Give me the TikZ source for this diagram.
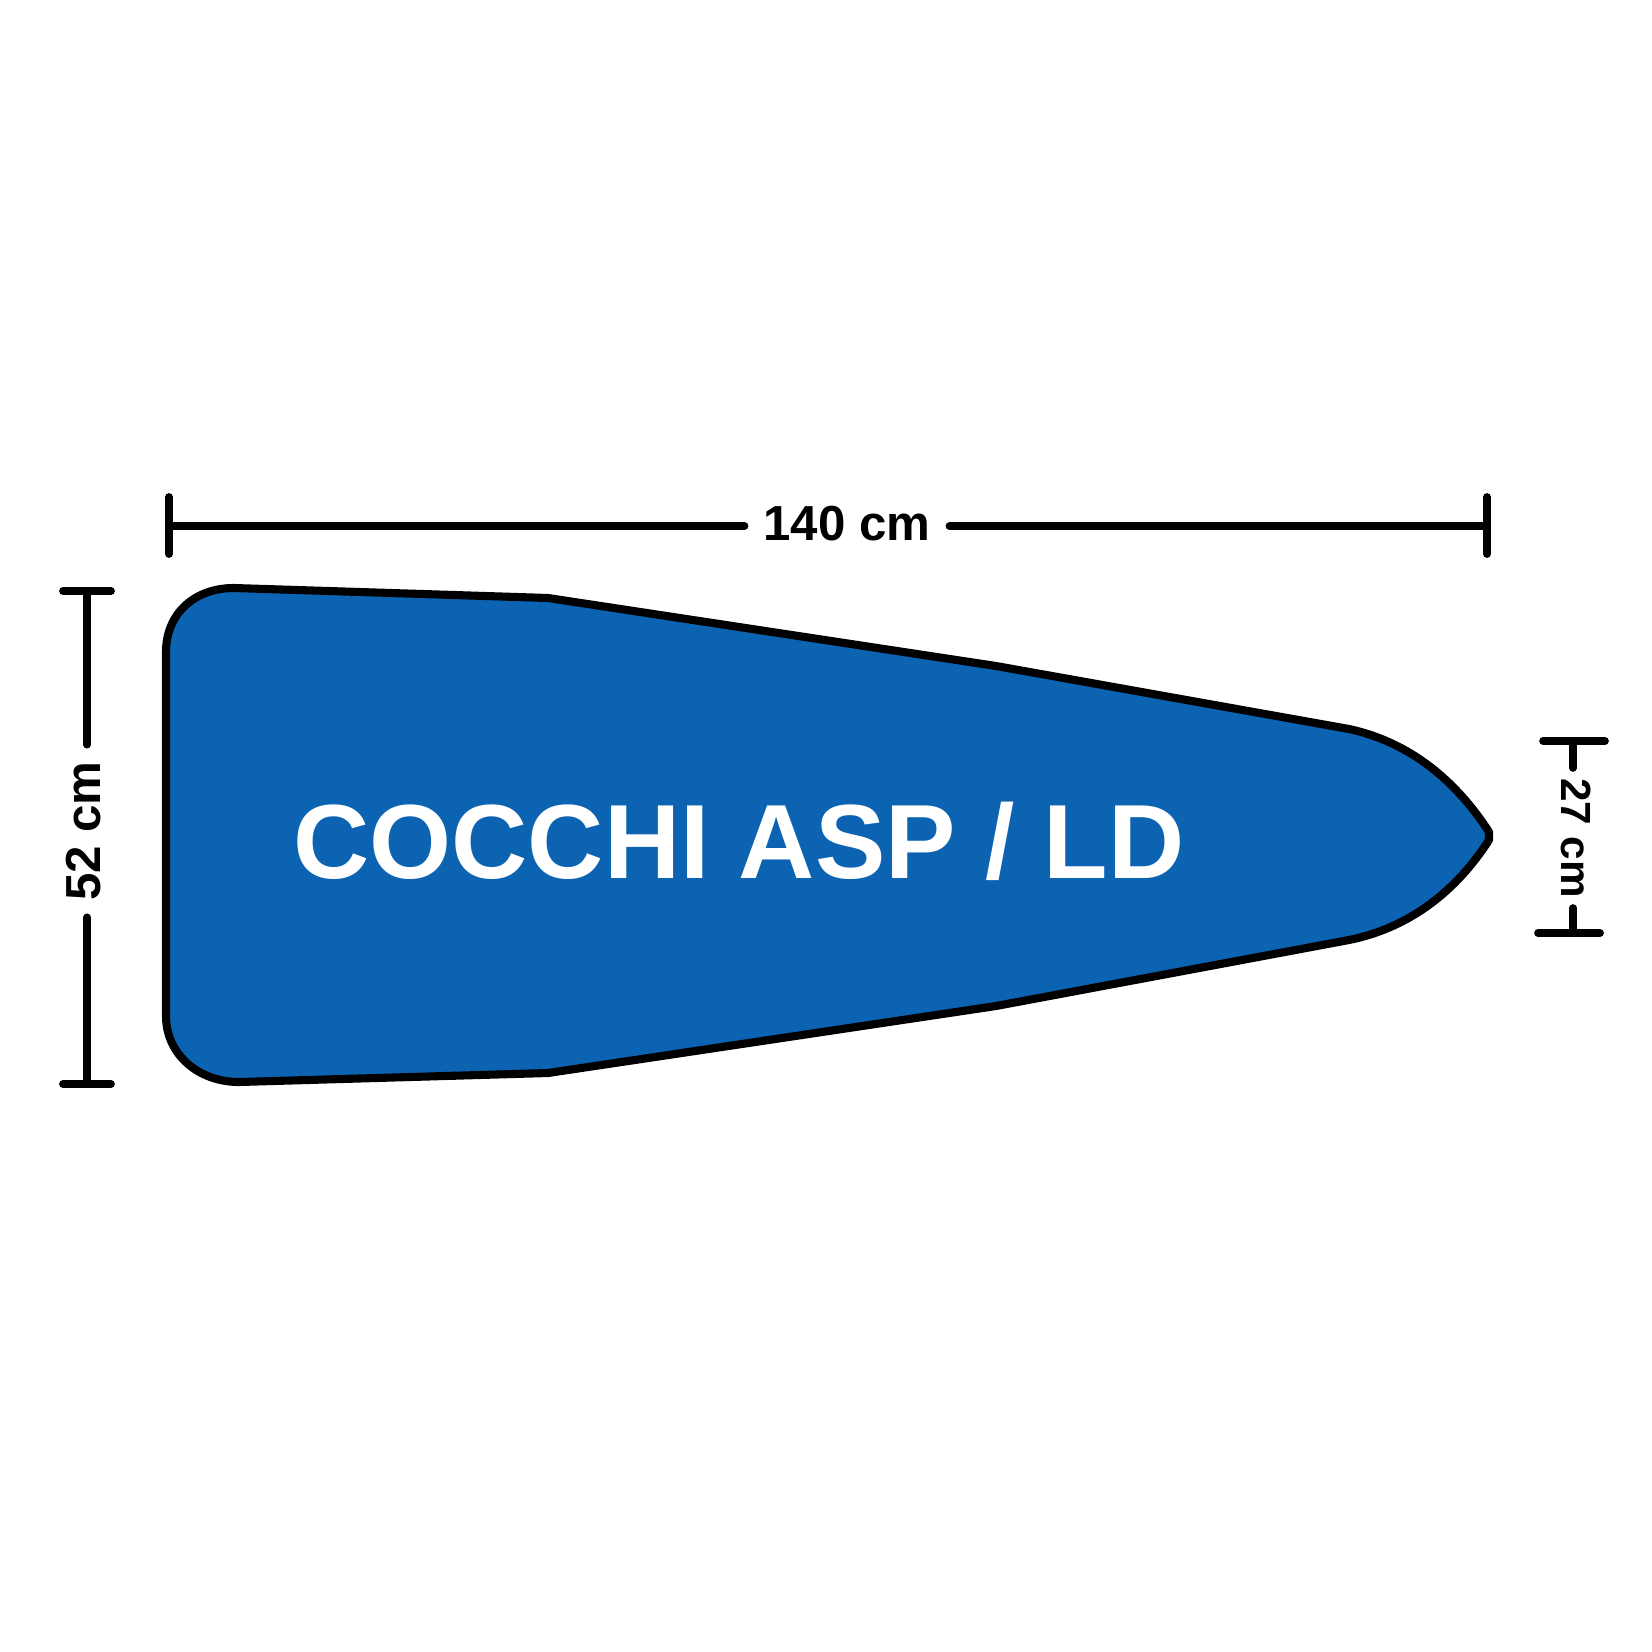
\documentclass[tikz,border=0pt]{standalone}
\usepackage{fontspec}
\setmainfont{Liberation Sans}
\definecolor{boardblue}{RGB}{12,99,178}

\begin{document}
\begin{tikzpicture}[x=0.01cm,y=-0.01cm,
  dimline/.style={line width=2.2pt,line cap=round},
  dimlabel/.style={font=\fontsize{14}{16}\selectfont\bfseries,inner ysep=0pt,inner xsep=5.2pt},
  board/.style={draw=black,line width=2.3pt,fill=boardblue,line join=round}]
\useasboundingbox (0,0) rectangle (1652,1652);
% the board cover
\draw [board] (166,652) .. controls (166,614) and (194,588) .. (234,588)
  -- (548,598) -- (996,666) -- (1349,729)
  .. controls (1418,744) and (1462,790) .. (1489,832)
  -- (1489,840)
  .. controls (1462,882) and (1418,926) .. (1349,940)
  -- (996,1006) -- (548,1073) -- (239,1082)
  .. controls (198,1082) and (166,1054) .. (166,1016) -- cycle;
\node at (739,878) (model) [anchor=base,text=white,inner sep=0pt,font=\fontsize{30}{36}\selectfont\bfseries] {COCCHI ASP / LD};
% length
\coordinate (lenA) at (169,526);
\coordinate (lenB) at (1487,526);
\node at (847,524) (len) [dimlabel] {140 cm};
\draw [dimline] (lenA) -- (lenA -| len.west);
\draw [dimline] (len.east |- lenB) -- (lenB);
\draw [dimline] (lenA) ++(0,-29) -- ++(0,57);
\draw [dimline] (lenB) ++(0,-29) -- ++(0,57);
% width
\coordinate (widA) at (87,591);
\coordinate (widB) at (87,1084);
\node at (84,831) (wid) [dimlabel,rotate=90,inner xsep=4.5pt] {52 cm};
\draw [dimline] (widA) -- (widA |- wid.east);
\draw [dimline] (widB |- wid.west) -- (widB);
\draw [dimline] (widA) ++(-24,0) -- ++(48,0);
\draw [dimline] (widB) ++(-24,0) -- ++(48,0);
% tip
\coordinate (tipA) at (1573,741);
\coordinate (tipB) at (1573,933);
\node at (1576,838) (tip) [dimlabel,rotate=-90,inner xsep=2.7pt,font=\fontsize{12}{14}\selectfont\bfseries] {27 cm};
\draw [dimline] (tipA) -- (tipA |- tip.west);
\draw [dimline] (tip.east -| tipB) -- (tipB);
\draw [dimline] (tipA) ++(-30,0) -- ++(62,0);
\draw [dimline] (tipB) ++(-35,0) -- ++(62,0);
\end{tikzpicture}
\end{document}
